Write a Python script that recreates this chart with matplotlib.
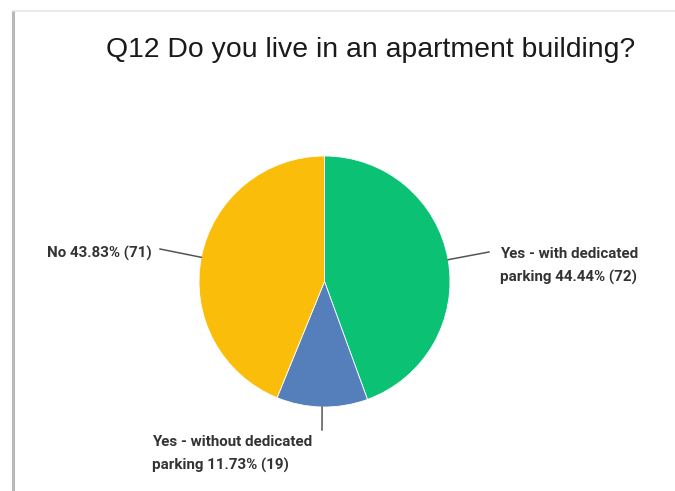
import numpy as np
import matplotlib.pyplot as plt
from matplotlib.patches import Rectangle

# survey answers, drawn clockwise from 12 o'clock
answers = ['Yes - with dedicated\nparking', 'Yes - without dedicated\nparking', 'No']
percents = [44.44, 11.73, 43.83]
counts = [72, 19, 71]
colors = ['#0bc274', '#557fba', '#fabd0a']

title = 'Q12 Do you live in an apartment building?'

W, H = 675, 491
fig = plt.figure(figsize=(W / 100, H / 100), dpi=100)
ax = fig.add_axes([0, 0, 1, 1])

# card with a shadowed left edge
ax.add_patch(Rectangle((13, -5), W, H - 6, facecolor='white', edgecolor='#e6e6e6', lw=1.2))
ax.plot([13, 13], [-5, H - 11], color='#b8b8b8', lw=2.2, solid_capstyle='butt')

cx, cy, r = 324.5, H - 281.5, 125.5
wedges, _ = ax.pie(percents, colors=colors, startangle=90, counterclock=False,
                   center=(cx, cy), radius=r, frame=True,
                   wedgeprops=dict(linewidth=0.6, edgecolor='white'))
ax.set_xlim(0, W)
ax.set_ylim(0, H)
ax.set_aspect('equal')
ax.axis('off')

ax.text(371, H - 50, title, ha='center', va='center', fontsize=20.4,
        family='Liberation Sans', color='#1a1a1a')

# label positions (text anchor, line end) in pixels
label_pos = [((500, H - 266), (489, H - 252)),
             ((152, H - 454), (322, H - 430)),
             ((47, H - 253), (160, H - 249))]

for w, pct, n, name, (tpos, lend) in zip(wedges, percents, counts, answers, label_pos):
    mid = np.deg2rad((w.theta1 + w.theta2) / 2)
    px, py = cx + r * np.cos(mid), cy + r * np.sin(mid)
    ax.plot([px, lend[0]], [py, lend[1]], color='#555555', lw=1.1)
    ax.text(tpos[0], tpos[1], f'{name} {pct:.2f}% ({n})', ha='left', va='center',
            fontsize=10.9, fontweight='bold', family='Roboto', color='#333333',
            linespacing=1.7)

fig.savefig('out.png', dpi=100)
